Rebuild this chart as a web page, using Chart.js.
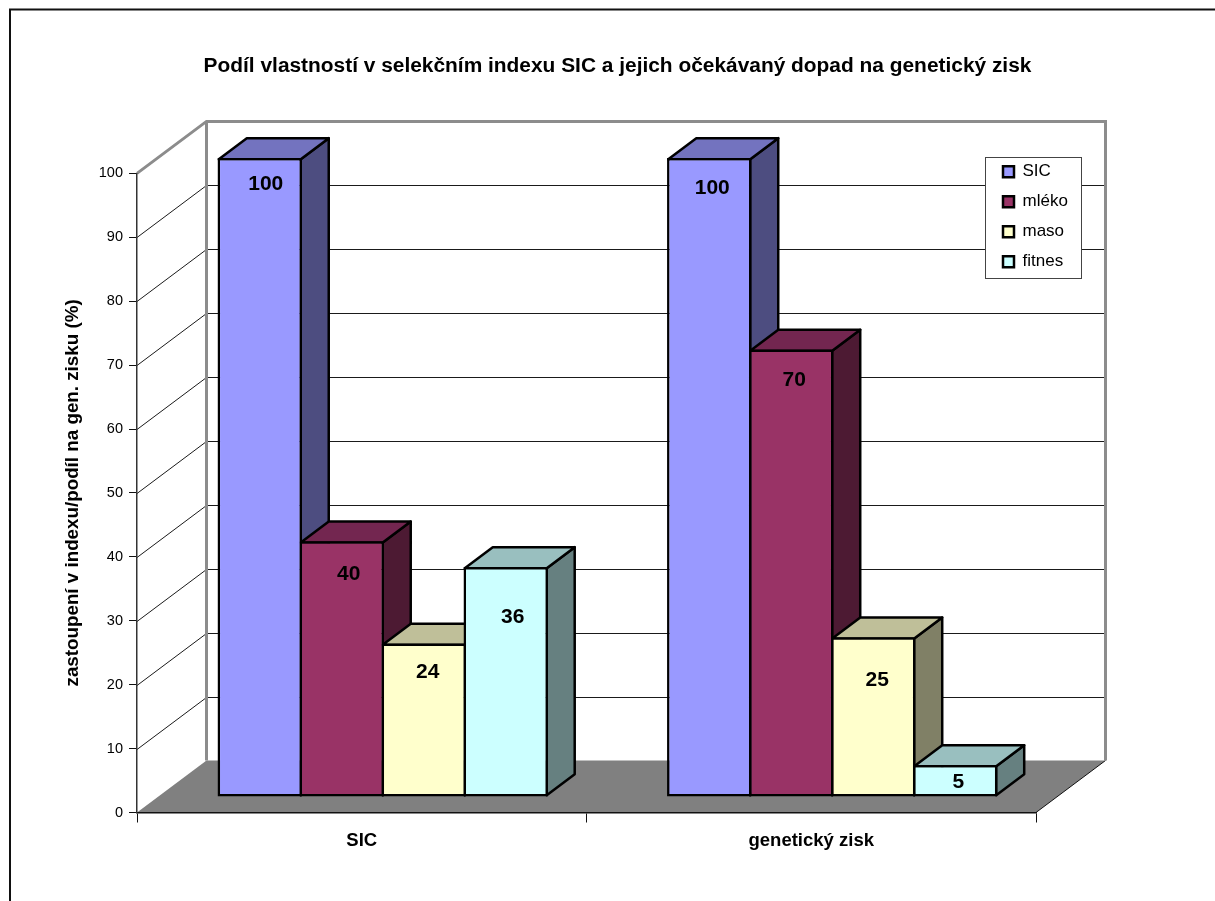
<!DOCTYPE html>
<html>
<head>
<meta charset="utf-8">
<style>html,body{margin:0;padding:0;background:#fff}canvas{display:block}</style>
<script src="https://cdn.jsdelivr.net/npm/chart.js@4"></script>
</head>
<body>
<canvas id="c" width="1215" height="901" style="width:1215px;height:901px"></canvas>
<script>
const categories = ['SIC', 'genetický zisk'];
const sicValues = [100, 100];
const mlekoValues = [40, 70];
const masoValues = [24, 25];
const fitnesValues = [36, 5];
const titleText = 'Podíl vlastností v selekčním indexu SIC a jejich očekávaný dopad na genetický zisk';
const yAxisTitle = 'zastoupení v indexu/podíl na gen. zisku (%)';

const WALL = {dx: 69.5, dy: -52};
const BAR3D = {dx: 28, dy: -21};
const SHIFT = {x: 21, y: -15.5};
const LEGEND_BOX = {l: 985, t: 157, r: 1081, b: 278};
// placement of value labels relative to the bar's top centre: [series][category]
const labelOffsetX = [[6, 3], [7, 3], [4, 4], [7, 3]];
const labelOffsetY = [[26.5, 30.5], [32.5, 30.5], [28.5, 42.5], [50.5, 17.5]];

function poly(ctx, pts, fill, stroke, lw) {
  ctx.beginPath();
  pts.forEach((p, i) => i ? ctx.lineTo(p[0], p[1]) : ctx.moveTo(p[0], p[1]));
  ctx.closePath();
  if (fill) { ctx.fillStyle = fill; ctx.fill(); }
  if (stroke) { ctx.strokeStyle = stroke; ctx.lineWidth = lw; ctx.lineJoin = 'round'; ctx.stroke(); }
}
function line(ctx, pts, color, lw) {
  ctx.beginPath();
  pts.forEach((p, i) => i ? ctx.lineTo(p[0], p[1]) : ctx.moveTo(p[0], p[1]));
  ctx.strokeStyle = color; ctx.lineWidth = lw; ctx.lineJoin = 'miter'; ctx.stroke();
}

const chart3d = {
  id: 'chart3d',
  beforeLayout(chart) {
    const l = chart.legend;
    if (l && !l._wrapped) {
      const f = l.fit;
      l.fit = function () { f.call(this); this.width = 179; };
      l._wrapped = true;
    }
  },
  afterLayout(chart) {
    const l = chart.legend;
    const w = l.right - l.left, h = l.bottom - l.top;
    l.left = LEGEND_BOX.l + 5; l.right = l.left + w;
    l.top = LEGEND_BOX.t - 6.8; l.bottom = l.top + h;
    if (l.adjustHitBoxes) l.adjustHitBoxes();
  },
  beforeDraw(chart) {
    const ctx = chart.ctx, y = chart.scales.y, a = chart.chartArea;
    ctx.save();
    // outer frame: top and left only
    line(ctx, [[10, 901], [10, 9.5], [1215, 9.5]], '#111', 2);
    const x0 = a.left, x1 = a.right, y0 = y.getPixelForValue(0), yT = y.getPixelForValue(100);
    const dx = WALL.dx, dy = WALL.dy;
    // floor
    poly(ctx, [[x0, y0], [x0 + dx, y0 + dy], [x1 + dx, y0 + dy], [x1, y0]], '#808080');
    line(ctx, [[x1, y0], [x1 + dx, y0 + dy]], '#111', 1);
    // grid
    y.ticks.forEach(t => {
      if (t.value === 0 || t.value === 100) return;
      const py = Math.round(y.getPixelForValue(t.value)) + 0.5;
      line(ctx, [[x0, py], [x0 + dx, py + dy], [x1 + dx, py + dy]], '#1a1a1a', 1);
    });
    // walls
    line(ctx, [[x0, yT], [x0 + dx, yT + dy], [x1 + dx, yT + dy], [x1 + dx, y0 + dy]], '#8c8c8c', 3);
    line(ctx, [[x0 + dx, yT + dy], [x0 + dx, y0 + dy]], '#8c8c8c', 3);
    // legend frame
    ctx.fillStyle = '#fff';
    ctx.fillRect(LEGEND_BOX.l, LEGEND_BOX.t, LEGEND_BOX.r - LEGEND_BOX.l, LEGEND_BOX.b - LEGEND_BOX.t);
    ctx.strokeStyle = '#444'; ctx.lineWidth = 1;
    ctx.strokeRect(LEGEND_BOX.l + .5, LEGEND_BOX.t + .5, LEGEND_BOX.r - LEGEND_BOX.l, LEGEND_BOX.b - LEGEND_BOX.t);
    ctx.restore();
  },
  beforeDatasetsDraw(chart) {
    const ctx = chart.ctx;
    ctx.save();
    ctx.translate(SHIFT.x, SHIFT.y);
    const n = chart.data.labels.length, m = chart.data.datasets.length;
    for (let c = 0; c < n; c++) {
      for (let s = 0; s < m; s++) {
        const ds = chart.data.datasets[s];
        const b = chart.getDatasetMeta(s).data[c];
        const l = b.x - b.width / 2 + 1.25, r = b.x + b.width / 2 - 1.25, t = b.y + 1.25, u = b.base - 1.25;
        const dx = BAR3D.dx, dy = BAR3D.dy;
        poly(ctx, [[r, t], [r + dx, t + dy], [r + dx, u + dy], [r, u]], ds.sideColor, '#000', 2.5);
        poly(ctx, [[l, t], [l + dx, t + dy], [r + dx, t + dy], [r, t]], ds.topColor, '#000', 2.5);
      }
    }
    ctx.restore();
    ctx.save();
    ctx.translate(SHIFT.x, SHIFT.y);
  },
  afterDatasetsDraw(chart) {
    const ctx = chart.ctx;
    ctx.restore();
    ctx.save();
    ctx.translate(SHIFT.x, SHIFT.y);
    ctx.font = 'bold 21px "Liberation Sans"';
    ctx.fillStyle = '#000';
    ctx.textAlign = 'center';
    ctx.textBaseline = 'middle';
    chart.data.datasets.forEach((ds, s) => {
      chart.getDatasetMeta(s).data.forEach((b, c) => {
        ctx.fillText(String(ds.data[c]), b.x + labelOffsetX[s][c], b.y + labelOffsetY[s][c]);
      });
    });
    ctx.restore();
  }
};

Chart.defaults.font.family = '"Liberation Sans"';
Chart.defaults.color = '#000';

function series(label, data, color, top, side) {
  return {label, data, backgroundColor: color, borderColor: '#000', borderWidth: 2.5,
    borderSkipped: false, inflateAmount: 0, topColor: top, sideColor: side,
    categoryPercentage: 0.7296, barPercentage: 1.03};
}

new Chart(document.getElementById('c'), {
  type: 'bar',
  data: {
    labels: categories,
    datasets: [
      series('SIC', sicValues, '#9999FF', '#7373BF', '#4D4D80'),
      series('mléko', mlekoValues, '#993366', '#732650', '#4D1A33'),
      series('maso', masoValues, '#FFFFCC', '#BFBF99', '#808066'),
      series('fitnes', fitnesValues, '#CCFFFF', '#99BFBF', '#668080')
    ]
  },
  plugins: [chart3d],
  options: {
    responsive: false,
    animation: false,
    devicePixelRatio: 1,
    layout: {padding: {left: 20, right: 0, top: 0, bottom: 0}},
    plugins: {
      tooltip: {enabled: false},
      title: {
        display: true, text: titleText, color: '#000',
        font: {size: 20.9, weight: 'bold'},
        padding: {top: 53.4, bottom: 94.9}
      },
      legend: {
        display: true, position: 'right', align: 'start', fullSize: false, z: 1,
        onClick: null,
        labels: {boxWidth: 11, boxHeight: 11, padding: 13, color: '#000', font: {size: 17}}
      }
    },
    scales: {
      x: {
        type: 'category',
        offset: true,
        afterFit(s) { s.height = 88.5; },
        border: {display: true, color: '#111', width: 1.5},
        grid: {display: true, offset: true, drawOnChartArea: false, drawTicks: true, tickLength: 10, color: '#111', lineWidth: 1},
        ticks: {color: '#000', font: {size: 18.5, weight: 'bold'}, padding: 7, maxRotation: 0}
      },
      y: {
        type: 'linear',
        min: 0, max: 100,
        afterFit(s) { s.width = 117; },
        border: {display: true, color: '#333', width: 1.5},
        grid: {display: true, drawOnChartArea: false, drawTicks: true, tickLength: 8, color: '#111', lineWidth: 1},
        ticks: {stepSize: 10, color: '#000', font: {size: 14.5}, padding: 6},
        title: {display: true, text: yAxisTitle, color: '#000', font: {size: 18.8, weight: 'bold'}, padding: {top: 42, bottom: 0}}
      }
    }
  }
});
</script>
</body>
</html>
